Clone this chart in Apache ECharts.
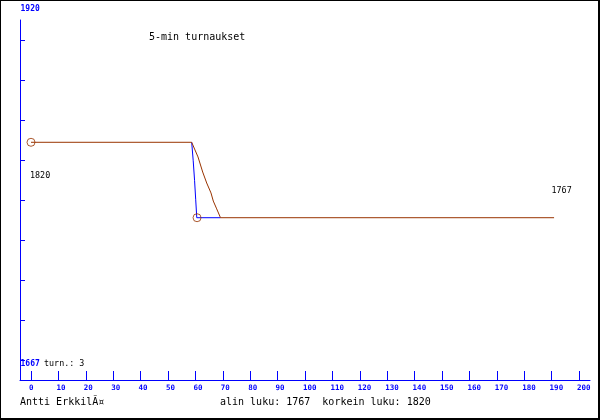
<!DOCTYPE html>
<html><head><meta charset="utf-8">
<script src="https://cdn.jsdelivr.net/npm/echarts@6/dist/echarts.min.js"></script>
<style>html,body{margin:0;padding:0;background:#fff}#c{width:600px;height:420px}</style>
</head><body><div id="c"></div><script>
// ---- data ----
const title = '5-min turnaukset';
const author = 'Antti ErkkilÃ¤';
const summary = 'alin luku: 1767  korkein luku: 1820';
const turnLabel = 'turn.: 3';
const yTopLabel = '1920';
const yBottomLabel = '1667';
const xTickLabels = [0,10,20,30,40,50,60,70,80,90,100,110,120,130,140,150,160,170,180,190,200];
const avgLine = [[0,1820],[58.65,1820],[59.85,1814.6],[60.95,1809.7],[62.66,1799.1],[64.12,1791.4],[65.69,1784.4],[66.53,1778.7],[67.77,1773.2],[69.16,1767],[190.9,1767]];
const rawLine = [[58.65,1820],[59.2,1807],[59.7,1793],[60.1,1780],[60.5,1767],[69.16,1767]];
const extremes = [[0,1820],[60.6,1767]];
const extremeLabels = ['1820','1767'];
const yLow = 1667, yHigh = 1920, ySteps = 9;

// ---- chart ----
const BLUE = '#0000ff', BROWN = '#993300';
const mono = 'DejaVu Sans Mono';
const yStep = (yHigh - yLow) / ySteps;
const yTicks = [];
for (let k = 0; k < ySteps; k++) yTicks.push(yLow + k * yStep);
const yMin = yLow - yStep * 0.5, yMax = yHigh - yStep * 0.5;
const labelShift = 0.73;

const chart = echarts.init(document.getElementById('c'), null, {renderer: 'canvas'});
function txt(s, x, y, opts) {
  return Object.assign({type: 'text', silent: true, style: Object.assign({
    text: s, x: x, y: y, fill: '#000', font: '10px "' + mono + '"', textVerticalAlign: 'middle'
  }, opts || {})});
}
chart.setOption({
  backgroundColor: '#fff',
  animation: false,
  grid: {left: 20, right: 10, top: 20, bottom: 40},
  xAxis: {
    type: 'value', min: -4.015, max: 204.015,
    axisLine: {show: true, onZero: false, lineStyle: {color: BLUE, width: 1}},
    axisTick: {show: true, inside: true, length: 9, lineStyle: {color: BLUE}, customValues: xTickLabels},
    axisLabel: {show: true, color: BLUE, fontFamily: mono, fontWeight: 'bold', fontSize: 7.5, margin: 4,
      align: 'left', customValues: xTickLabels.map(v => v - labelShift),
      formatter: v => String(Math.round((v + labelShift) / 10) * 10)},
    splitLine: {show: false}
  },
  yAxis: {
    type: 'value', min: yMin, max: yMax,
    axisLine: {show: true, onZero: false, lineStyle: {color: BLUE, width: 1}},
    axisTick: {show: true, inside: true, length: 5, lineStyle: {color: BLUE}, customValues: yTicks},
    axisLabel: {show: false},
    splitLine: {show: false}
  },
  series: [
    {type: 'line', data: rawLine, symbol: 'none', lineStyle: {color: BLUE, width: 1}, z: 2},
    {type: 'line', data: avgLine, symbol: 'none', lineStyle: {color: BROWN, width: 1}, z: 3},
    {type: 'scatter', data: extremes, symbol: 'circle', symbolSize: 8,
      itemStyle: {color: 'rgba(0,0,0,0)', borderColor: BROWN, borderWidth: 1}, z: 4}
  ],
  graphic: [
    txt(title, 149, 37),
    txt(author, 20, 402),
    txt(summary, 220, 402),
    txt(yTopLabel, 20.5, 8.5, {fill: BLUE, font: 'bold 8px "' + mono + '"'}),
    txt(yBottomLabel, 20.5, 364, {fill: BLUE, font: 'bold 8px "' + mono + '"'}),
    txt(turnLabel, 44, 364, {font: '8.4px "' + mono + '"'}),
    txt(extremeLabels[0], 30, 176, {font: '8.4px "' + mono + '"'}),
    txt(extremeLabels[1], 551.5, 191, {font: '8.4px "' + mono + '"'}),
    {type: 'line', silent: true, shape: {x1: 0.5, y1: 0, x2: 0.5, y2: 420}, style: {stroke: '#000', lineWidth: 1}},
    {type: 'line', silent: true, shape: {x1: 0, y1: 0.5, x2: 600, y2: 0.5}, style: {stroke: '#000', lineWidth: 1}},
    {type: 'line', silent: true, shape: {x1: 599, y1: 0, x2: 599, y2: 420}, style: {stroke: '#000', lineWidth: 2}},
    {type: 'line', silent: true, shape: {x1: 0, y1: 419, x2: 600, y2: 419}, style: {stroke: '#000', lineWidth: 2}}
  ]
});
</script></body></html>
